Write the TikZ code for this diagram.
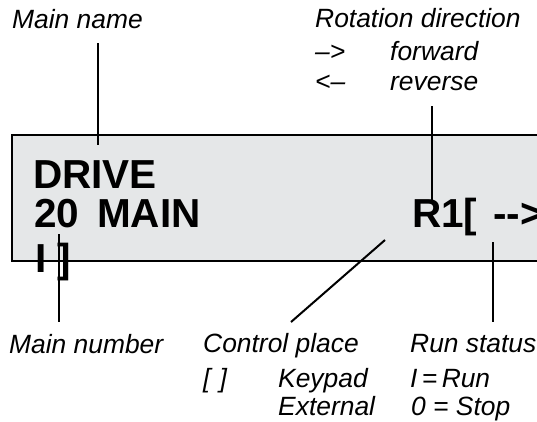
\documentclass[tikz,border=0pt]{standalone}
\usepackage{fontspec}
\setmainfont{Liberation Sans}
\definecolor{panelgrey}{rgb}{0.90, 0.906, 0.91}

\tikzset{
  callout/.style={font=\fontsize{26.4}{30}\selectfont\itshape, inner sep=0pt, anchor=base west},
  lcd/.style={font=\fontsize{40.5}{46}\selectfont\bfseries, inner sep=0pt, anchor=base west},
  leader/.style={line width=2pt}
}

\begin{document}
\begin{tikzpicture}[x=1pt,y=-1pt]
\useasboundingbox (0,0) rectangle (537,421);
\clip (0,0) rectangle (537,421);

% display panel
\filldraw[fill=panelgrey, line width=2.5pt] (12,135) rectangle (560,261);

\node[lcd] (drive) at (33,188) {DRIVE};
\node[lcd] (num) at (34,227) {20};
\node[lcd] (name) at (97,227) {MAIN};
\node[lcd] (ref) at (412,227) {R1[};
\node[lcd] (dir) at (493,227) {-{}-{}>};
\node[lcd] (stat) at (35,272) {I ]};

% labels above
\node[callout] (mainname) at (12,28) {Main name};
\node[callout] (rotdir) at (315,27) {Rotation direction};
\node[callout] (fwdsym) at (315,60) {\textendash>};
\node[callout] (fwd) at (390,60) {forward};
\node[callout] (revsym) at (315,90) {<\textendash};
\node[callout] (rev) at (390,90) {reverse};

% labels below
\node[callout] (mainnum) at (9,353) {Main number};
\node[callout] (ctrl) at (203,352) {Control place};
\node[callout] (runst) at (410,352) {Run status};
\node[callout] (brk) at (203,387) {[\hspace{9pt}]};
\node[callout] (keypad) at (278,387) {Keypad};
\node[callout] (run) at (410,387) {I\,=\,Run};
\node[callout] (ext) at (278,415) {External};
\node[callout] (stop) at (411,415) {0 = Stop};

% leader lines
\coordinate (nameA) at (98,43);   \coordinate (nameB) at (98,145);
\coordinate (rotA) at (432,106);  \coordinate (rotB) at (432,200);
\coordinate (numA) at (59,234);   \coordinate (numB) at (59,322);
\coordinate (ctrlA) at (385,240); \coordinate (ctrlB) at (291,322);
\coordinate (runA) at (493,242);  \coordinate (runB) at (493,322);
\draw[leader] (nameA) -- (nameB);
\draw[leader] (rotA) -- (rotB);
\draw[leader] (numA) -- (numB);
\draw[leader] (ctrlA) -- (ctrlB);
\draw[leader] (runA) -- (runB);
\end{tikzpicture}
\end{document}
